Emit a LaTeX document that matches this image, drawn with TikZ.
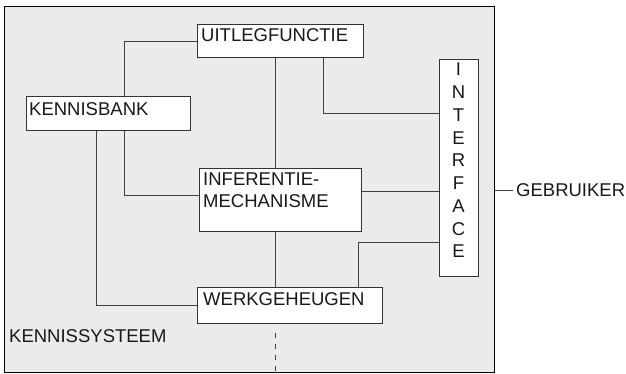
\documentclass[tikz,border=0pt]{standalone}
\usepackage{fontspec}
\setmainfont{Liberation Sans}
\begin{document}
\begin{tikzpicture}[x=1pt,y=-1pt,
  box/.style={draw=black!80, fill=white, line width=0.9pt, anchor=north west, inner sep=0pt},
  lbl/.style={anchor=north west, inner sep=0pt, text=black!90, font=\fontsize{18.5}{22}\selectfont, align=left},
  conn/.style={draw=black!75, line width=0.9pt}]
\useasboundingbox (0,0) rectangle (626,373);
\node[draw=black, fill=black!8, line width=1.4pt, anchor=north west, inner sep=0pt,
  minimum width=490pt, minimum height=366pt] (frame) at (4,6) {};
\node[box, minimum width=166pt, minimum height=33pt] (uit) at (197,24) {};
\node[box, minimum width=164pt, minimum height=34pt] (kb) at (26,96) {};
\node[box, minimum width=162pt, minimum height=63pt] (inf) at (199,168) {};
\node[box, minimum width=185pt, minimum height=36pt] (werk) at (197,287) {};
\node[box, minimum width=39pt, minimum height=217pt] (intf) at (439,59) {};
% texts
\node[lbl] (uitT) at (201,28) {UITLEGFUNCTIE};
\node[lbl] (kbT) at (29,102) {KENNISBANK};
\node[lbl] (infT) at (203,173) {INFERENTIE-\\MECHANISME};
\node[lbl] (werkT) at (203,292) {WERKGEHEUGEN};
\node[lbl] (ksT) at (9,329) {KENNISSYSTEEM};
\node[anchor=north, inner sep=0pt, text=black!90, font=\fontsize{18.5}{22.75}\selectfont, align=center]
  (intfT) at (458.5,63) {I\\N\\T\\E\\R\\F\\A\\C\\E};
\node[anchor=west, inner xsep=3pt, inner ysep=0pt, text=black!90, font=\fontsize{18.5}{22}\selectfont]
  (geb) at (513,190) {GEBRUIKER};
% connectors
\draw[conn] (uit.west) -| ([xshift=98pt]kb.north west);
\draw[conn] ([xshift=78pt]uit.south west) coordinate (a) -- (a |- inf.north);
\draw[conn] ([xshift=126pt]uit.south west) |- ([yshift=-54pt]intf.north west);
\draw[conn] ([xshift=98pt]kb.south west) |- ([yshift=-27pt]inf.north west);
\draw[conn] ([xshift=70pt]kb.south west) |- (werk.west);
\draw[conn] ([yshift=-23pt]inf.north east) coordinate (b) -- (b -| intf.west);
\draw[conn] ([xshift=76pt]inf.south west) coordinate (c) -- (c |- werk.north);
\draw[conn] ([yshift=-183pt]intf.north west) -| ([xshift=161pt]werk.north west);
\draw[conn, dash pattern=on 5pt off 6pt] ([xshift=78pt,yshift=-9pt]werk.south west) coordinate (d) -- (d |- frame.south);
\draw[conn] (geb.west -| frame.east) -- (geb.west);
\end{tikzpicture}
\end{document}
